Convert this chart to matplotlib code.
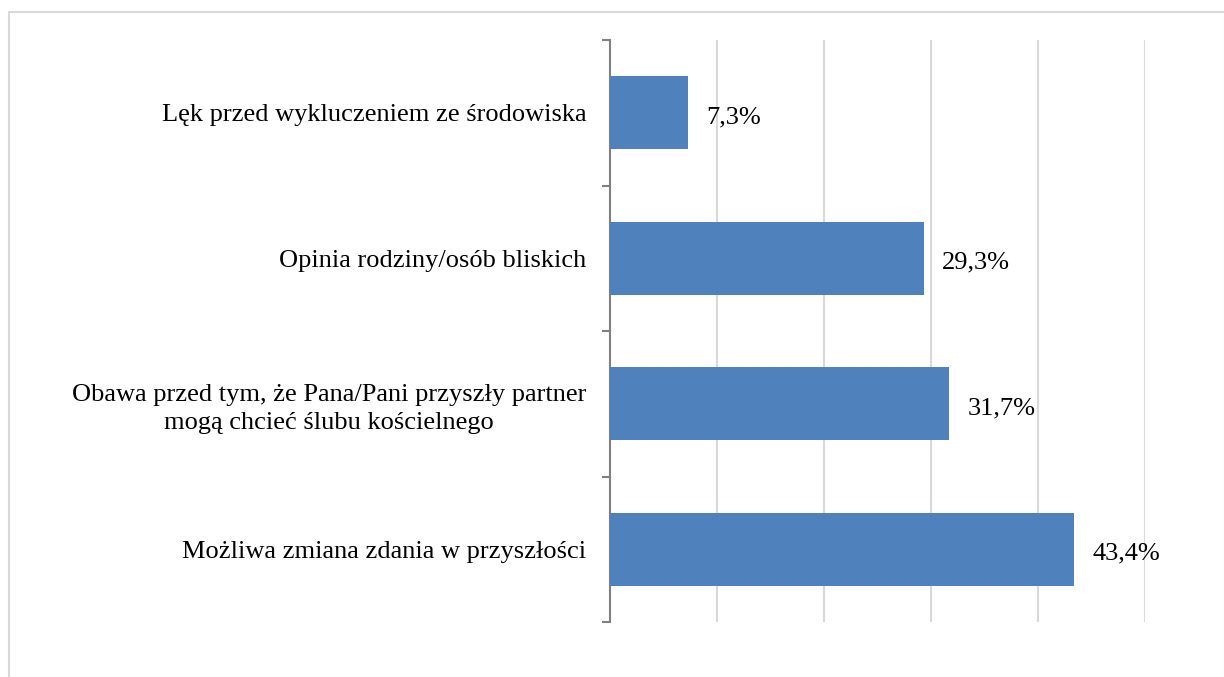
import numpy as np
import matplotlib.pyplot as plt
from matplotlib.patches import Rectangle

# data, top to bottom
categories = ['Lęk przed wykluczeniem ze środowiska',
              'Opinia rodziny/osób bliskich',
              'Obawa przed tym, że Pana/Pani przyszły partner\nmogą chcieć ślubu kościelnego',
              'Możliwa zmiana zdania w przyszłości']
values = [7.3, 29.3, 31.7, 43.4]
value_labels = ['7,3%', '29,3%', '31,7%', '43,4%']

plt.rcParams['font.family'] = ['Liberation Serif', 'DejaVu Serif']

W, H = 1224, 677
fig = plt.figure(figsize=(W / 100, H / 100), dpi=100)
ax = fig.add_axes([610 / W, 1 - 622 / H, (1145 - 610) / W, (622 - 40) / H])

y = np.arange(len(categories))
ax.barh(y, values, height=0.5, color='#4f81bd', zorder=3)
ax.set_ylim(len(categories) - 0.5, -0.5)
ax.set_xlim(0, 50)

for yi, v, lab in zip(y, values, value_labels):
    ax.annotate(lab, (v, yi), xytext=(13, -1.5), textcoords='offset points',
                ha='left', va='center_baseline', fontsize=19, color='#000000')

ax.set_xticks([10, 20, 30, 40, 50])
ax.set_xticklabels([])
ax.tick_params(axis='x', length=0)
ax.grid(True, axis='x', color='#d9d9d9', linewidth=1.5, zorder=0)

ax.set_yticks(y)
ax.set_yticklabels(categories, fontsize=19, ha='right', multialignment='center',
                   linespacing=1.35)
ax.tick_params(axis='y', which='major', length=0, pad=17)
ax.set_yticks(np.arange(-0.5, len(categories)), minor=True)
ax.tick_params(axis='y', which='minor', length=6, width=1.5, color='#808080', direction='out')

for s in ['top', 'right', 'bottom']:
    ax.spines[s].set_visible(False)
ax.spines['left'].set_color('#808080')
ax.spines['left'].set_linewidth(1.5)

# light frame around the chart area
fig.patches.append(Rectangle((9 / W, -0.05), (W - 8) / W, 1 - 12 / H + 0.05,
                             transform=fig.transFigure, fill=False,
                             edgecolor='#d9d9d9', linewidth=1.5))

fig.savefig('out.png', dpi=100)
